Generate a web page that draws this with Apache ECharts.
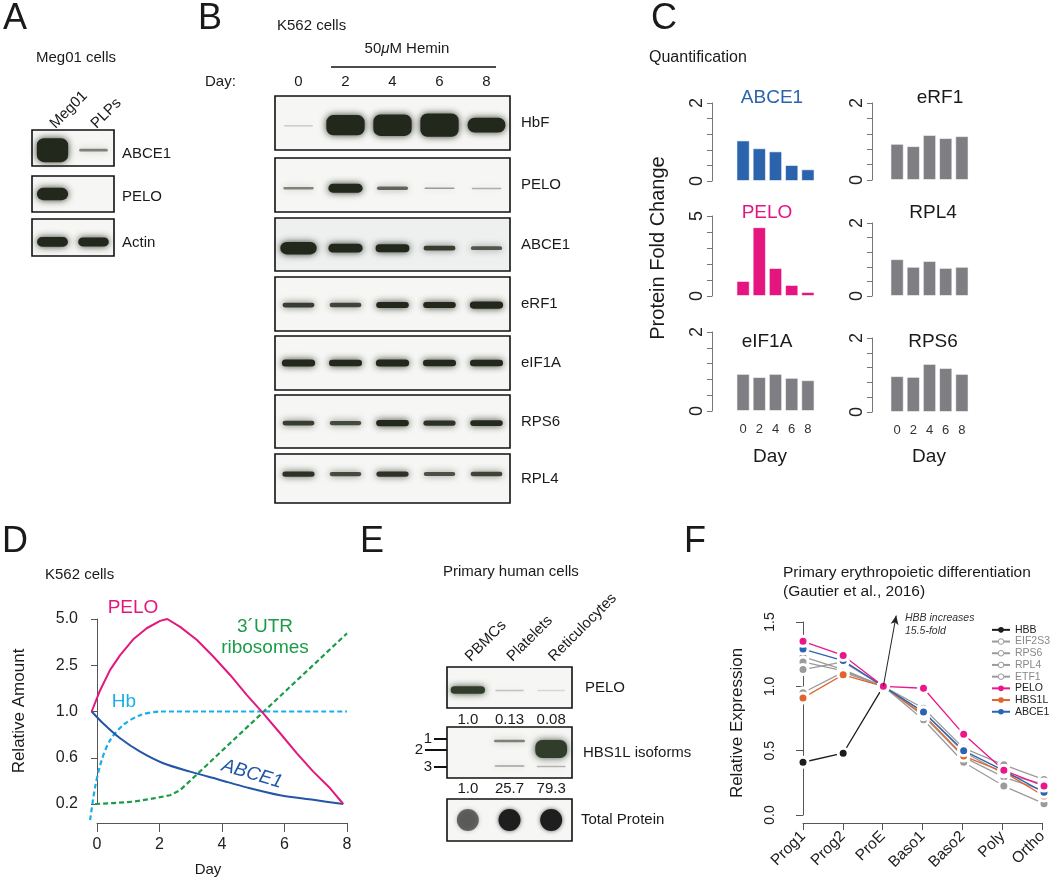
<!DOCTYPE html>
<html><head><meta charset="utf-8">
<script src="https://cdn.jsdelivr.net/npm/echarts@6/dist/echarts.min.js"></script>
<style>html,body{margin:0;padding:0;background:#fff}#c{width:1050px;height:879px}</style>
</head><body><div id="c"></div>
<script>
const FONT = '"Liberation Sans", Arial, Helvetica, sans-serif';
const INK = '#1a1a1a';

// ---------- Panel A : Meg01 blot (relative band intensity) ----------
const aLanes = ['Meg01', 'PLPs'];
const aABCE1 = [1.0, 0.18];
const aPELO = [0.55, 0];
const aActin = [0.45, 0.42];

// ---------- Panel B : K562 hemin blot ----------
const bDays = ['0', '2', '4', '6', '8'];
const bHbF = [0.08, 0.92, 0.98, 1.05, 0.70];
const bPELO = [0.18, 0.45, 0.22, 0.15, 0.12];
const bABCE1 = [0.60, 0.45, 0.42, 0.28, 0.24];
const beRF1 = [0.28, 0.27, 0.33, 0.33, 0.38];
const beIF1A = [0.38, 0.36, 0.38, 0.36, 0.36];
const bRPS6 = [0.28, 0.26, 0.34, 0.30, 0.32];
const bRPL4 = [0.30, 0.26, 0.30, 0.25, 0.27];

// ---------- Panel C : quantification ----------
const cDays = ['0', '2', '4', '6', '8'];
const cABCE1 = [1.04, 0.84, 0.76, 0.41, 0.30];
const cPELO = [0.94, 4.30, 1.75, 0.69, 0.25];
const ceIF1A = [0.94, 0.86, 0.94, 0.84, 0.78];
const ceRF1 = [0.94, 0.88, 1.17, 1.09, 1.14];
const cRPL4 = [1.01, 0.80, 0.96, 0.77, 0.80];
const cRPS6 = [0.97, 0.95, 1.30, 1.19, 1.03];

// ---------- Panel D : schematic (y = tick index) ----------
const dYTicks = ['0.2', '0.6', '1.0', '2.5', '5.0'];
const dPELO = [[-0.17,2.0],[0.10,2.46],[0.42,2.90],[0.74,3.22],[1.16,3.56],[1.59,3.80],[2.02,3.96],[2.25,4.0],[2.66,3.83],[3.19,3.55],[3.72,3.19],[4.26,2.79],[4.79,2.36],[5.32,1.96],[5.86,1.53],[6.39,1.10],[6.92,0.70],[7.46,0.34],[7.88,0.0]];
const dABCE1 = [[-0.17,2.0],[0.20,1.74],[0.74,1.42],[1.38,1.13],[2.12,0.88],[2.98,0.70],[3.94,0.52],[4.79,0.36],[5.86,0.19],[6.92,0.09],[7.88,0.0]];
const dHb = [[-0.22,-0.35],[-0.06,0.37],[0.15,0.95],[0.42,1.38],[0.84,1.71],[1.38,1.92],[2.02,2.0],[8.0,2.0]];
const dUTR = [[-0.06,0.0],[0.52,0.02],[1.16,0.05],[1.80,0.12],[2.34,0.19],[2.66,0.30],[8.0,3.69]];

// ---------- Panel E : primary cells blot ----------
const eLanes = ['PBMCs', 'Platelets', 'Reticulocytes'];
const ePELO = [0.38, 0.10, 0.07];
const ePELOquant = [1.0, 0.13, 0.08];
const eIso1 = [0, 0.20, 0];
const eIso2 = [0, 0, 1.0];
const eIso3 = [0, 0.15, 0.12];
const eHBS1Lquant = [1.0, 25.7, 79.3];
const eTotal = [0.58, 1.0, 0.93];

// ---------- Panel F : Gautier et al. ----------
const fStages = ['Prog1', 'Prog2', 'ProE', 'Baso1', 'Baso2', 'Poly', 'Ortho'];
const fHBB = [0.41, 0.48, 1.0];
const fEIF2S3 = [1.23, 1.13, 1.0, 0.83, 0.52, 0.39, 0.275];
const fRPS6 = [1.19, 1.12, 1.0, 0.80, 0.49, 0.32, 0.24];
const fRPL4 = [1.13, 1.19, 1.0, 0.77, 0.45, 0.295, 0.19];
const fETF1 = [0.95, 1.11, 1.0, 0.74, 0.41, 0.225, 0.088];
const fPELO = [1.35, 1.24, 1.0, 0.985, 0.627, 0.347, 0.225];
const fHBS1L = [0.91, 1.09, 1.0, 0.78, 0.458, 0.335, 0.148];
const fABCE1 = [1.29, 1.20, 1.0, 0.80, 0.50, 0.345, 0.176];

// ================================================================
const chart = echarts.init(document.getElementById('c'), null, {renderer: 'canvas', width: 1050, height: 879});
const grid = [], xAxis = [], yAxis = [], series = [], graphic = [];

function T(x, y, text, size, o = {}) {
  graphic.push({type: 'text', x, y, rotation: o.rot || 0, z: 100, silent: true,
    style: {text, fontSize: size, fontFamily: FONT, fill: o.color || INK, align: o.align || 'left',
      verticalAlign: o.va || 'middle', fontStyle: o.italic ? 'italic' : 'normal', rich: o.rich}});
}
function L(x1, y1, x2, y2, w, c) {
  graphic.push({type: 'line', silent: true, z: 100, shape: {x1, y1, x2, y2}, style: {stroke: c || '#111', lineWidth: w || 1.5}});
}
const fmtQ = v => v < 1 ? v.toFixed(2) : v.toFixed(1);
const HIDDEN = {show: false};

// ---- blots ----
function blotGrid(box, lanes, name, o = {}) {
  const gi = grid.length;
  grid.push({left: box[0], top: box[1], width: box[2], height: box[3], show: true, borderColor: '#111', borderWidth: 1.6, backgroundColor: o.bg || '#f6f6f4'});
  const xi = xAxis.length;
  xAxis.push({type: 'category', gridIndex: gi, data: lanes, position: 'bottom', axisLine: HIDDEN, axisTick: HIDDEN, splitLine: HIDDEN,
    axisLabel: o.bottom ? {show: true, interval: 0, formatter: (v, i) => fmtQ(o.bottom[i]), fontSize: 15, fontFamily: FONT, color: INK, margin: o.bottomMargin || 4} : {show: false}});
  if (o.top) {
    xAxis.push({type: 'category', gridIndex: gi, data: lanes, position: 'top', axisLine: HIDDEN, axisTick: HIDDEN, splitLine: HIDDEN,
      axisLabel: {show: true, interval: 0, rotate: o.topRotate || 0, fontSize: 15, fontFamily: FONT, color: INK, margin: o.topMargin || 7}});
  }
  const yi = yAxis.length;
  const shift = o.nameShift || 0;
  yAxis.push({type: 'category', gridIndex: gi, data: [name], position: 'right', axisLine: HIDDEN, axisTick: HIDDEN, splitLine: HIDDEN,
    axisLabel: shift ? {fontSize: 15, fontFamily: FONT, color: INK, margin: o.nameMargin || 10, verticalAlign: 'top', lineHeight: 2 * shift}
                     : {fontSize: 15, fontFamily: FONT, color: INK, margin: o.nameMargin || 10}});
  return {xi, yi};
}
function bandRender(cfg) {
  return (params, api) => {
    const v = api.value(1);
    if (!(v > 0)) return null;
    const cs = params.coordSys;
    const cx = api.coord([api.value(0), 0])[0];
    const laneW = cs.width / cfg.n;
    const col = cfg.rgb || '34,40,27';
    const a = Math.max(0, Math.min(1, (cfg.aGain || 3.3) * (v - 0.02)));
    const cy = cs.y + cs.height * (1 - cfg.cy);
    if (cfg.dot) {
      return {type: 'circle', shape: {cx, cy, r: cfg.r}, style: {fill: `rgba(${col},${a})`, shadowBlur: 4, shadowColor: `rgba(${col},${a * 0.7})`}};
    }
    const w = laneW * Math.min(cfg.wMax, cfg.w0 + cfg.w1 * v);
    const h = Math.max(cfg.tMin || 2.5, cfg.tScale * v);
    return {type: 'rect', shape: {x: cx - w / 2 + 2, y: cy - h / 2 + 1, width: w - 4, height: Math.max(1.5, h - 2), r: Math.min(h / 2, 7)},
      style: {fill: `rgba(${col},${a})`, shadowBlur: cfg.blur || 7, shadowColor: `rgba(${col},${a * 0.9})`}};
  };
}
function bands(ax, vals, cfg) {
  series.push({type: 'custom', xAxisIndex: ax.xi, yAxisIndex: ax.yi, silent: true, z: 3,
    data: vals.map((v, i) => [i, v]), renderItem: bandRender(cfg)});
}

// Panel A blots
const cfgA = {n: 2, w0: 0.76, w1: 0.2, wMax: 0.86, tScale: 26};
let ax = blotGrid([32, 130, 82, 36], aLanes, 'ABCE1', {top: true, topRotate: -45, topMargin: 4, nameMargin: 8, nameShift: 6});
bands(ax, aABCE1, Object.assign({cy: 0.44}, cfgA));
ax = blotGrid([32, 176, 82, 36], aLanes, 'PELO', {nameMargin: 8, nameShift: 3});
bands(ax, aPELO, Object.assign({cy: 0.5}, cfgA));
ax = blotGrid([32, 219, 82, 37], aLanes, 'Actin', {nameMargin: 8, nameShift: 5});
bands(ax, aActin, Object.assign({cy: 0.38}, cfgA));

// Panel B blots
const cfgB = {n: 5, w0: 0.68, w1: 0.3, wMax: 0.9, tScale: 24};
const bBoxes = [[96, 54], [158, 54], [218, 53], [277, 54], [336, 54], [395, 53], [454, 49]];
const bNames = ['HbF', 'PELO', 'ABCE1', 'eRF1', 'eIF1A', 'RPS6', 'RPL4'];
const bVals = [bHbF, bPELO, bABCE1, beRF1, beIF1A, bRPS6, bRPL4];
const bCy = [0.46, 0.44, 0.43, 0.48, 0.5, 0.47, 0.59];
bNames.forEach((nm, k) => {
  const a = blotGrid([275, bBoxes[k][0], 235, bBoxes[k][1]], bDays, nm, {top: k === 0, topMargin: 7, nameMargin: 11, bg: k === 2 ? '#eef0f0' : '#f6f6f4'});
  bands(a, bVals[k], Object.assign({cy: bCy[k]}, cfgB));
});

// Panel E blots
const cfgE = {n: 3, w0: 0.72, w1: 0.6, wMax: 0.92, tScale: 25, rgb: '50,60,42'};
ax = blotGrid([447, 667, 125, 41], eLanes, 'PELO', {top: true, topRotate: -45, topMargin: 8, bottom: ePELOquant, bottomMargin: 4, nameMargin: 13});
bands(ax, ePELO, Object.assign({cy: 0.44}, cfgE));
ax = blotGrid([447, 727, 125, 51], eLanes, 'HBS1L isoforms', {bottom: eHBS1Lquant, bottomMargin: 3, nameMargin: 11});
bands(ax, eIso1, Object.assign({}, cfgE, {cy: 0.725, tScale: 22}));
bands(ax, eIso2, Object.assign({}, cfgE, {cy: 0.57, tScale: 20, w0: 0.86, w1: 0}));
bands(ax, eIso3, Object.assign({}, cfgE, {cy: 0.235, tScale: 22}));
ax = blotGrid([447, 799, 125, 42], eLanes, 'Total Protein', {nameMargin: 9});
bands(ax, eTotal, {n: 3, dot: true, r: 11, cy: 0.5, rgb: '30,30,30', aGain: 1.1});

// ---- Panel C bars ----
function barGrid(left, top, height, vals, color, max, interval, showX, offset) {
  const gi = grid.length;
  grid.push({left, top, width: 81, height});
  const xi = xAxis.length;
  xAxis.push({type: 'category', gridIndex: gi, data: cDays, axisLine: HIDDEN, axisTick: HIDDEN,
    axisLabel: {show: showX, interval: 0, fontSize: 13, fontFamily: FONT, color: '#333', margin: 12}});
  const yi = yAxis.length;
  yAxis.push({type: 'value', gridIndex: gi, min: 0, max, interval, offset, splitLine: HIDDEN,
    axisLine: {show: true, lineStyle: {color: '#777', width: 1}}, axisTick: {show: true, length: 5, lineStyle: {color: '#777'}},
    axisLabel: {rotate: 90, fontSize: 18, fontFamily: FONT, color: '#222', margin: 6,
      formatter: v => (Math.abs(v) < 1e-9 || Math.abs(v - max) < 1e-9) ? String(Math.round(v)) : ''}});
  series.push({type: 'bar', xAxisIndex: xi, yAxisIndex: yi, data: vals, barWidth: '82%',
    itemStyle: {color, borderColor: 'rgba(255,255,255,0.55)', borderWidth: 1}});
}
const GRAYBAR = '#7f7f83';
barGrid(735, 103, 78, cABCE1, '#2c63ad', 2, 0.4, false, 23);
barGrid(735, 216, 80, cPELO, '#e5157f', 5, 1, false, 23);
barGrid(735, 332, 79, ceIF1A, GRAYBAR, 2, 0.4, true, 23);
barGrid(889, 103, 77, ceRF1, GRAYBAR, 2, 0.4, false, 17);
barGrid(889, 223, 73, cRPL4, GRAYBAR, 2, 0.4, false, 17);
barGrid(889, 338, 74, cRPS6, GRAYBAR, 2, 0.4, true, 17);

// ---- Panel D ----
let gi = grid.length;
grid.push({left: 97, top: 619, width: 250, height: 185});
xAxis.push({type: 'value', gridIndex: gi, min: 0, max: 8, interval: 2, offset: 19, splitLine: HIDDEN,
  axisLine: {show: true, onZero: false, lineStyle: {color: '#555'}}, axisTick: {show: true, length: 9, lineStyle: {color: '#555'}},
  axisLabel: {fontSize: 16, fontFamily: FONT, color: '#222', margin: 14}});
yAxis.push({type: 'value', gridIndex: gi, min: 0, max: 4, interval: 1, offset: 10, splitLine: HIDDEN,
  axisLine: {show: true, lineStyle: {color: '#555'}}, axisTick: {show: true, length: 6, lineStyle: {color: '#555'}},
  axisLabel: {fontSize: 16, fontFamily: FONT, color: '#222', margin: 9, formatter: v => dYTicks[v]}});
gi = grid.length;
grid.push({left: 97 - 0.3 * 31.25, top: 619, width: 8.3 * 31.25, height: 4.4 * 46.25});
let xi = xAxis.length;
xAxis.push({type: 'value', gridIndex: gi, min: -0.3, max: 8, show: false});
let yi = yAxis.length;
yAxis.push({type: 'value', gridIndex: gi, min: -0.4, max: 4, show: false});
function dLine(data, color, dashed, smooth) {
  series.push({type: 'line', xAxisIndex: xi, yAxisIndex: yi, data, showSymbol: false, symbol: 'none', smooth: smooth || false,
    lineStyle: {color, width: dashed ? 2.2 : 2, type: dashed ? [5, 3] : 'solid'}, z: 3});
}
dLine(dUTR, '#1c9c49', true, 0);
dLine(dHb, '#1aaee8', true, 0.3);
dLine(dABCE1, '#2356a6', false, 0.3);
dLine(dPELO, '#e2187f', false, 0);

// ---- Panel F ----
const FPX = 193 / 1.5;
gi = grid.length;
grid.push({left: 803, top: 622, width: 241, height: 193});
xAxis.push({type: 'value', gridIndex: gi, min: 0, max: 6, interval: 1, offset: 8, splitLine: HIDDEN,
  axisLine: {show: true, onZero: false, lineStyle: {color: '#555'}}, axisTick: {show: true, length: 7, lineStyle: {color: '#555'}},
  axisLabel: {rotate: 45, fontSize: 15.5, fontFamily: FONT, color: '#222', margin: 11, formatter: v => fStages[v]}});
yAxis.push({type: 'value', gridIndex: gi, min: 0, max: 1.5, interval: 0.5, offset: 17, splitLine: HIDDEN,
  axisLine: {show: true, lineStyle: {color: '#555'}}, axisTick: {show: true, length: 7, lineStyle: {color: '#555'}},
  axisLabel: {rotate: 90, fontSize: 14, fontFamily: FONT, color: '#222', margin: 9, formatter: v => v.toFixed(1)}});
gi = grid.length;
grid.push({left: 803, top: 815 - 1.6 * FPX, width: 241, height: 1.6 * FPX});
const fx = xAxis.length;
xAxis.push({type: 'value', gridIndex: gi, min: 0, max: 6, show: false});
const fy = yAxis.length;
yAxis.push({type: 'value', gridIndex: gi, min: 0, max: 1.6, show: false});
function fLine(name, vals, color, extra) {
  series.push(Object.assign({type: 'line', name, xAxisIndex: fx, yAxisIndex: fy, data: vals.map((v, i) => [i, v]),
    symbol: 'circle', symbolSize: 10, lineStyle: {color, width: 1.3}, itemStyle: {color, borderColor: '#fff', borderWidth: 3}, z: 3}, extra || {}));
}
const FG = '#9b9b9b';
fLine('HBB', fHBB, '#1c1c1c', {markLine: {silent: true, symbol: ['none', 'arrow'], symbolSize: [6, 9], label: {show: false},
  lineStyle: {color: '#222', width: 1, type: 'solid'}, data: [[{coord: [2, 1.0]}, {coord: [2.32, 1.55]}]]}});
fLine('EIF2S3', fEIF2S3, FG);
fLine('RPS6', fRPS6, FG);
fLine('RPL4', fRPL4, FG);
fLine('ETF1', fETF1, FG);
fLine('HBS1L', fHBS1L, '#e2632b');
fLine('ABCE1', fABCE1, '#2b64b2');
fLine('PELO', fPELO, '#ec168c');

const grayLeg = {color: '#fff', borderColor: FG, borderWidth: 1};
const legend = {orient: 'vertical', left: 986, top: 619, itemWidth: 18, itemHeight: 7, itemGap: 0, selectedMode: false,
  textStyle: {fontSize: 10.5, fontFamily: FONT, lineHeight: 11.7, color: '#222'},
  data: [
    {name: 'HBB', itemStyle: {borderWidth: 0}},
    {name: 'EIF2S3', itemStyle: grayLeg, textStyle: {color: '#888'}},
    {name: 'RPS6', itemStyle: grayLeg, textStyle: {color: '#888'}},
    {name: 'RPL4', itemStyle: grayLeg, textStyle: {color: '#888'}},
    {name: 'ETF1', itemStyle: grayLeg, textStyle: {color: '#888'}},
    {name: 'PELO', itemStyle: {borderWidth: 0}},
    {name: 'HBS1L', itemStyle: {borderWidth: 0}},
    {name: 'ABCE1', itemStyle: {borderWidth: 0}}
  ]};

// ---- texts ----
T(3, 19, 'A', 36); T(198, 19, 'B', 36); T(651, 19, 'C', 36);
T(2, 542, 'D', 36); T(360, 542, 'E', 36); T(684, 542, 'F', 36);
T(36, 58, 'Meg01 cells', 15);
T(277, 26, 'K562 cells', 15);
T(407, 49, '{a|50}{b|μ}{a|M Hemin}', 15, {align: 'center', rich: {a: {fontSize: 15, fontFamily: FONT, fill: INK}, b: {fontSize: 15, fontFamily: FONT, fontStyle: 'italic', fill: INK}}});
L(331, 67, 496, 67, 1.6);
T(205, 82, 'Day:', 15);
T(649, 58, 'Quantification', 16);
T(658, 248, 'Protein Fold Change', 20, {align: 'center', rot: Math.PI / 2});
T(772, 98, 'ABCE1', 19, {align: 'center', color: '#2c63ad'});
T(767, 213, 'PELO', 19, {align: 'center', color: '#e5157f'});
T(767, 342, 'eIF1A', 19, {align: 'center'});
T(940, 98, 'eRF1', 19, {align: 'center'});
T(933, 213, 'RPL4', 19, {align: 'center'});
T(933, 342, 'RPS6', 19, {align: 'center'});
T(770, 457, 'Day', 19, {align: 'center'});
T(929, 457, 'Day', 19, {align: 'center'});
// D
T(45, 575, 'K562 cells', 15);
T(19, 711, 'Relative Amount', 17, {align: 'center', rot: Math.PI / 2});
T(208, 870, 'Day', 15, {align: 'center'});
T(133, 608, 'PELO', 19, {align: 'center', color: '#e2187f'});
T(265, 627, '3´UTR', 19, {align: 'center', color: '#1c9c49'});
T(265, 648, 'ribosomes', 19, {align: 'center', color: '#1c9c49'});
T(124, 702, 'Hb', 19, {align: 'center', color: '#1aaee8'});
T(252, 774, 'ABCE1', 19, {align: 'center', color: '#2356a6', italic: true, rot: -0.29});
// E
T(443, 572, 'Primary human cells', 15);
T(432, 739, '1', 15, {align: 'right'}); L(434, 739, 447, 739, 2);
T(423, 750, '2', 15, {align: 'right'}); L(425, 750, 447, 750, 2);
T(432, 767, '3', 15, {align: 'right'}); L(434, 767, 447, 767, 2);
// F
T(783, 573, 'Primary erythropoietic differentiation', 15.5);
T(783, 592, '(Gautier et al., 2016)', 15.5);
T(737, 723, 'Relative Expression', 17, {align: 'center', rot: Math.PI / 2});
T(905, 618, 'HBB increases', 10.5, {italic: true, color: '#333'});
T(905, 631, '15.5-fold', 10.5, {italic: true, color: '#333'});

chart.setOption({animation: false, backgroundColor: '#fff', textStyle: {fontFamily: FONT},
  grid, xAxis, yAxis, series, legend, graphic});
</script></body></html>
